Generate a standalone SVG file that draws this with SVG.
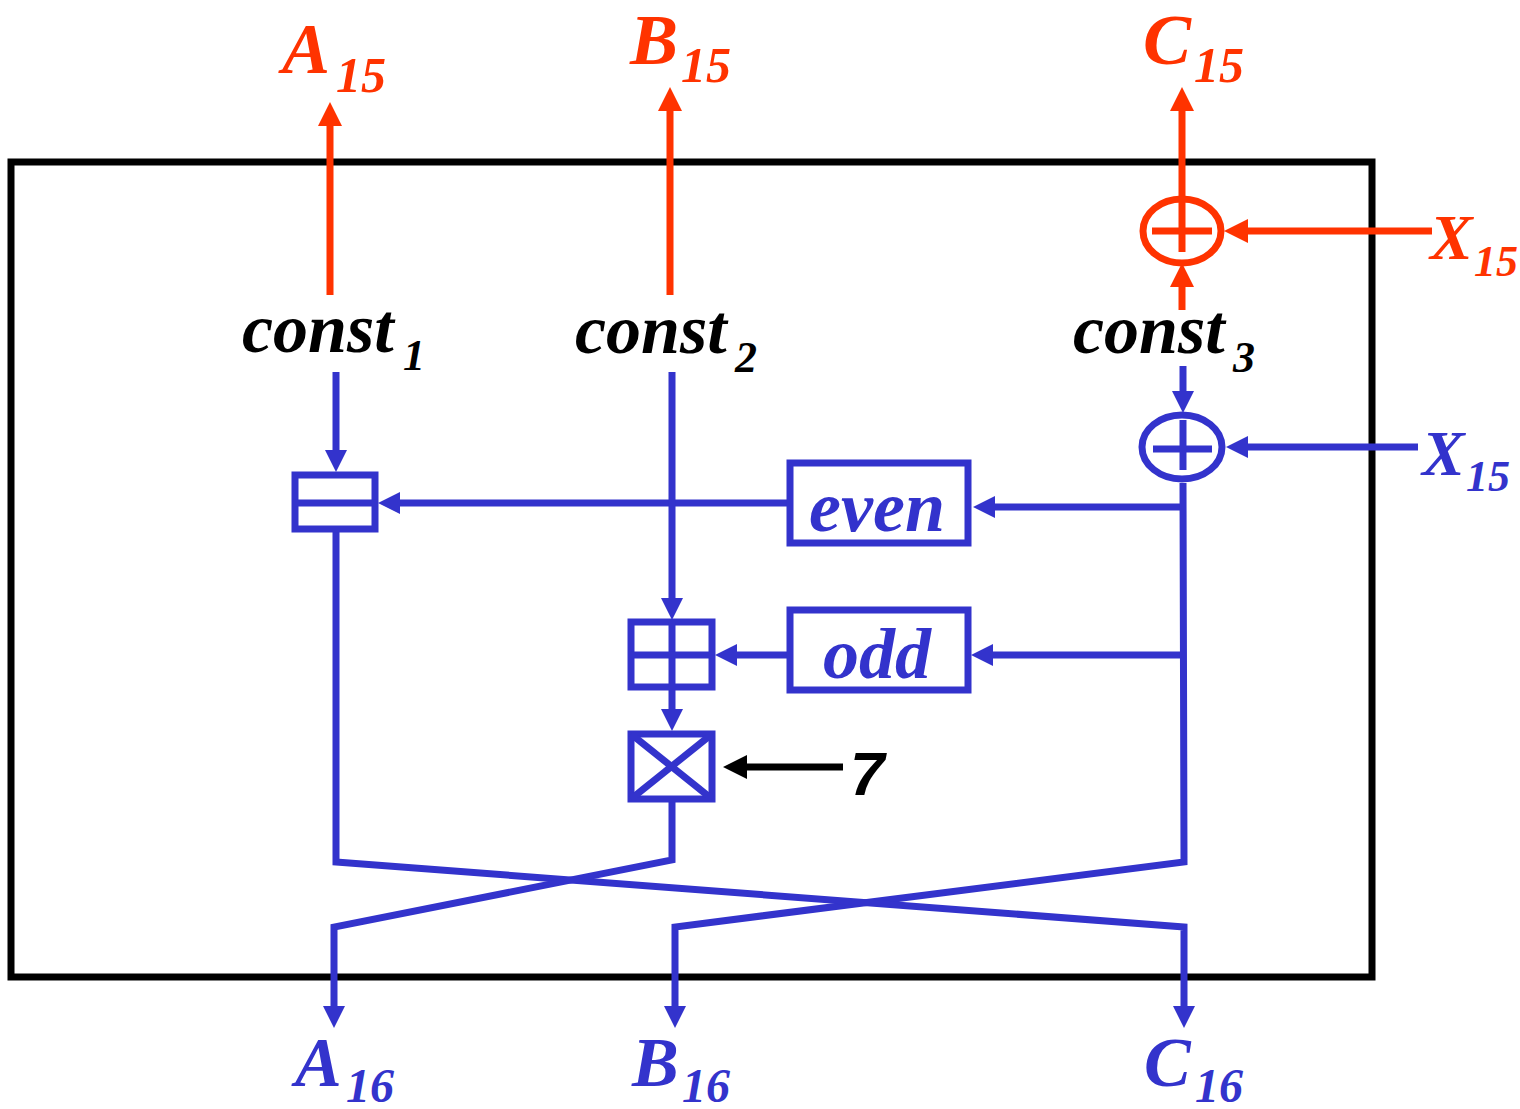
<svg xmlns="http://www.w3.org/2000/svg" width="1520" height="1109" viewBox="0 0 1520 1109">
<style>
.r{stroke:#FF3300;stroke-width:7;fill:none}
.b{stroke:#3333CC;stroke-width:7;fill:none}
.k{stroke:#000;stroke-width:7;fill:none}
.rt{fill:#FF3300}
.bt{fill:#3333CC}
.kt{fill:#000}
text{font-family:'Liberation Serif','Times New Roman',serif;font-style:italic;font-weight:bold}
</style>
<defs>
<marker id="ar" markerUnits="userSpaceOnUse" markerWidth="24" markerHeight="24" refX="0" refY="12" orient="auto"><path d="M0,0 L24,12 L0,24 z" fill="#FF3300"/></marker>
<marker id="ab" markerUnits="userSpaceOnUse" markerWidth="24" markerHeight="24" refX="0" refY="11" orient="auto"><path d="M0,0 L22,11 L0,22 z" fill="#3333CC"/></marker>
<marker id="ak" markerUnits="userSpaceOnUse" markerWidth="24" markerHeight="24" refX="0" refY="12" orient="auto"><path d="M0,0 L24,12 L0,24 z" fill="#000"/></marker>
</defs>
<rect id="frame" x="11" y="162" width="1361" height="815" class="k"/>
<g id="connectors">
<line x1="330" y1="295" x2="330" y2="126" class="r" marker-end="url(#ar)"/>
<line x1="670" y1="295" x2="670" y2="111" class="r" marker-end="url(#ar)"/>
<line x1="1182" y1="196" x2="1182" y2="111" class="r" marker-end="url(#ar)"/>
<line x1="1432" y1="231" x2="1248" y2="231" class="r" marker-end="url(#ar)"/>
<line x1="1182" y1="310" x2="1182" y2="287" class="r" marker-end="url(#ar)"/>
<line x1="336" y1="372" x2="336" y2="450" class="b" marker-end="url(#ab)"/>
<line x1="787" y1="503" x2="400" y2="503" class="b" marker-end="url(#ab)"/>
<line x1="1184" y1="507" x2="995" y2="507" class="b" marker-end="url(#ab)"/>
<line x1="672" y1="372" x2="672" y2="598" class="b" marker-end="url(#ab)"/>
<line x1="787" y1="655" x2="737" y2="655" class="b" marker-end="url(#ab)"/>
<line x1="1184" y1="655" x2="993" y2="655" class="b" marker-end="url(#ab)"/>
<line x1="672" y1="690" x2="672" y2="709" class="b" marker-end="url(#ab)"/>
<line x1="843" y1="767" x2="747" y2="767" class="k" stroke-width="6" marker-end="url(#ak)"/>
<line x1="1183" y1="366" x2="1183" y2="391" class="b" marker-end="url(#ab)"/>
<line x1="1418" y1="447" x2="1248" y2="447" class="b" marker-end="url(#ab)"/>
<polyline points="1183,483 1184,862 675,927 675,1006" class="b" marker-end="url(#ab)"/>
<polyline points="336,532 336,862 1184,927 1184,1006" class="b" marker-end="url(#ab)"/>
<polyline points="672,802 672,860 334,927 334,1006" class="b" marker-end="url(#ab)"/>
</g>
<g id="xor-red">
<ellipse cx="1182" cy="231" rx="39" ry="32" class="r"/>
<line x1="1152" y1="231" x2="1212" y2="231" class="r"/>
<line x1="1182" y1="202" x2="1182" y2="252" class="r"/>
</g>
<g id="xor-blue">
<ellipse cx="1182" cy="447" rx="40" ry="32" class="b"/>
<line x1="1153" y1="449" x2="1212" y2="449" class="b"/>
<line x1="1183" y1="420" x2="1183" y2="470" class="b"/>
</g>
<g id="split">
<rect x="295" y="475" width="80" height="54" class="b"/>
<line x1="295" y1="503" x2="375" y2="503" class="b"/>
</g>
<g id="even">
<rect x="790" y="463" width="178" height="80" class="b"/>
<text x="877" y="531" class="bt" font-size="72" text-anchor="middle">even</text>
</g>
<g id="grid">
<rect x="631" y="622" width="81" height="65" class="b"/>
<line x1="672" y1="622" x2="672" y2="687" class="b"/>
<line x1="631" y1="655" x2="712" y2="655" class="b"/>
</g>
<g id="odd">
<rect x="790" y="610" width="178" height="80" class="b"/>
<text x="877" y="678" class="bt" font-size="72" text-anchor="middle">odd</text>
</g>
<g id="rot">
<rect x="631" y="734" width="81" height="65" class="b"/>
<line x1="631" y1="734" x2="712" y2="799" class="b"/>
<line x1="712" y1="734" x2="631" y2="799" class="b"/>
</g>
<g id="labels">
<text x="282" y="73" class="rt" font-size="72">A</text><text x="336" y="92" class="rt" font-size="50">15</text>
<text x="630" y="64" class="rt" font-size="72">B</text><text x="681" y="82" class="rt" font-size="50">15</text>
<text x="1143" y="64" class="rt" font-size="72">C</text><text x="1194" y="82" class="rt" font-size="50">15</text>
<text x="1430" y="259" class="rt" font-size="64">X</text><text x="1474" y="276" class="rt" font-size="44">15</text>
<text x="1422" y="475" class="bt" font-size="64">X</text><text x="1466" y="491" class="bt" font-size="44">15</text>
<text x="242" y="352" class="kt" font-size="70">const</text><text x="403" y="370" class="kt" font-size="44">1</text>
<text x="575" y="353" class="kt" font-size="70">const</text><text x="735" y="372" class="kt" font-size="44">2</text>
<text x="1073" y="353" class="kt" font-size="70">const</text><text x="1233" y="372" class="kt" font-size="44">3</text>
<text x="850" y="795" class="kt" style="font-family:'Liberation Sans',Arial,sans-serif" font-size="62">7</text>
<text x="295" y="1086" class="bt" font-size="70">A</text><text x="346" y="1102" class="bt" font-size="48">16</text>
<text x="632" y="1086" class="bt" font-size="70">B</text><text x="682" y="1102" class="bt" font-size="48">16</text>
<text x="1144" y="1086" class="bt" font-size="70">C</text><text x="1195" y="1102" class="bt" font-size="48">16</text>
</g>
</svg>
